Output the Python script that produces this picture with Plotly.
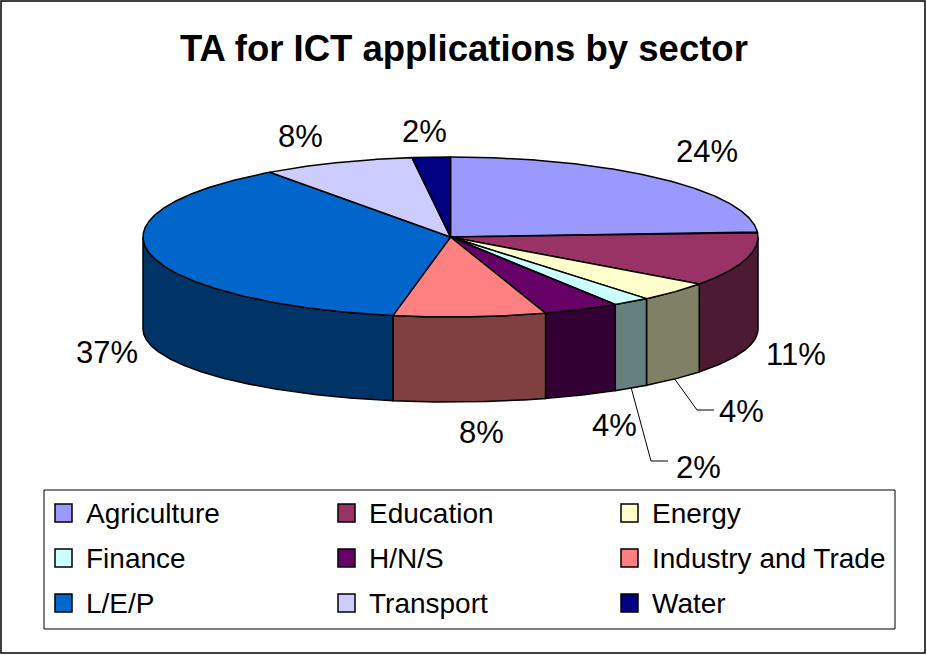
import numpy as np
import plotly.graph_objects as go

# ---------------- data ----------------
categories = ["Agriculture", "Education", "Energy", "Finance", "H/N/S",
              "Industry and Trade", "L/E/P", "Transport", "Water"]
shares = [24, 11, 4, 2, 4, 8, 37, 8, 2]
colors = ["#9999FF", "#993366", "#FFFFCC", "#CCFFFF", "#660066",
          "#FF8080", "#0066CC", "#CCCCFF", "#000080"]
title_text = "TA for ICT applications by sector"

# ---------------- layout constants ----------------
W, H = 927, 655
CX, CY, RX, RY = 450.5, 237.0, 307.5, 80.0   # ellipse of the pie top
D0, D1 = 92.0, 7.0                           # pie thickness (with slight perspective)
FONT = "Liberation Sans, Arial, sans-serif"
LABEL_POS = [(707, 151), (796, 354), (741, 411), (698, 467), (614, 425),
             (481, 432), (107, 352), (300, 136), (424, 131)]
LEADERS = {2: [(697, 410), (714, 410)], 3: [(651, 461), (668, 461)]}
LEG_BOX = (44, 490, 895, 629)
LEG_COLS = [55, 338, 621]
LEG_ROWS = [513, 558, 603]


def top_pt(t):
    th = np.radians(t)
    return CX + RX * np.sin(th), CY - RY * np.cos(th)


def bot_pt(t):
    th = np.radians(t)
    return CX + RX * np.sin(th), CY - RY * np.cos(th) + D0 + D1 * np.cos(th)


def darker(hx, f=0.5):
    hx = hx.lstrip("#")
    r, g, b = (int(hx[i:i + 2], 16) for i in (0, 2, 4))
    return "#%02X%02X%02X" % (round(r * f), round(g * f), round(b * f))


total = float(sum(shares))
bounds = np.concatenate([[0.0], np.cumsum(shares) / total * 360.0])

fig = go.Figure()

# side walls (visible front half only: 90..270 deg clockwise from top)
for i, cat in enumerate(categories):
    a1, a2 = bounds[i], bounds[i + 1]
    t1, t2 = max(a1, 90.0), min(a2, 270.0)
    if t2 <= t1:
        continue
    ts = np.linspace(t1, t2, max(2, int((t2 - t1) * 4) + 1))
    tx, ty = top_pt(ts)
    bx, by = bot_pt(ts[::-1])
    xs = np.concatenate([tx, bx, tx[:1]])
    ys = np.concatenate([ty, by, ty[:1]])
    fig.add_trace(go.Scatter(x=xs, y=ys, mode="lines", fill="toself",
                             fillcolor=darker(colors[i]),
                             line=dict(color="black", width=1.5),
                             hoverinfo="skip", showlegend=False))

# top faces
for i, cat in enumerate(categories):
    a1, a2 = bounds[i], bounds[i + 1]
    ts = np.linspace(a1, a2, max(2, int((a2 - a1) * 4) + 1))
    ax, ay = top_pt(ts)
    xs = np.concatenate([[CX], ax, [CX]])
    ys = np.concatenate([[CY], ay, [CY]])
    fig.add_trace(go.Scatter(x=xs, y=ys, mode="lines", fill="toself",
                             fillcolor=colors[i],
                             line=dict(color="black", width=1.5),
                             name=cat, hoverinfo="skip", showlegend=False))

# leader lines
for i, pts in LEADERS.items():
    mid = (bounds[i] + bounds[i + 1]) / 2
    sx, sy = bot_pt(mid)
    xs = [sx] + [p[0] for p in pts]
    ys = [sy] + [p[1] for p in pts]
    fig.add_trace(go.Scatter(x=xs, y=ys, mode="lines",
                             line=dict(color="black", width=1),
                             hoverinfo="skip", showlegend=False))

annotations = []
shapes = []

# percentage labels
for i, v in enumerate(shares):
    lx, ly = LABEL_POS[i]
    annotations.append(dict(x=lx, y=ly, xref="x", yref="y", text=f"{v}%",
                            showarrow=False, xanchor="center", yanchor="middle",
                            font=dict(family=FONT, size=31, color="black")))

# title
annotations.append(dict(x=464, y=48, xref="x", yref="y",
                        text="<b>" + title_text + "</b>", showarrow=False,
                        xanchor="center", yanchor="middle",
                        font=dict(family=FONT, size=36.5, color="black")))

# legend box
shapes.append(dict(type="rect", xref="x", yref="y", x0=LEG_BOX[0], y0=LEG_BOX[1],
                   x1=LEG_BOX[2], y1=LEG_BOX[3], line=dict(color="black", width=1),
                   fillcolor="white", layer="below"))
for i, cat in enumerate(categories):
    r, c = divmod(i, 3)
    sx, sy = LEG_COLS[c], LEG_ROWS[r]
    shapes.append(dict(type="rect", xref="x", yref="y", x0=sx, x1=sx + 17,
                       y0=sy - 9, y1=sy + 9, fillcolor=colors[i],
                       line=dict(color="black", width=1.5)))
    annotations.append(dict(x=sx + 29, y=sy, xref="x", yref="y", text=cat,
                            showarrow=False, xanchor="left", yanchor="middle",
                            font=dict(family=FONT, size=28, color="black")))

# outer chart border
shapes.append(dict(type="rect", xref="x", yref="y", x0=1, y0=1, x1=925, y1=653,
                   line=dict(color="black", width=1.5), layer="below"))

fig.update_layout(
    width=W, height=H, autosize=False,
    margin=dict(l=0, r=0, t=0, b=0, pad=0),
    paper_bgcolor="white", plot_bgcolor="white",
    xaxis=dict(range=[0, W], visible=False, fixedrange=True),
    yaxis=dict(range=[H, 0], visible=False, fixedrange=True),
    annotations=annotations, shapes=shapes, showlegend=False,
)

fig.write_html("out.html",
               config={"displayModeBar": False},
               post_script="document.body.style.margin='0';"
                           "document.body.style.overflow='hidden';")
